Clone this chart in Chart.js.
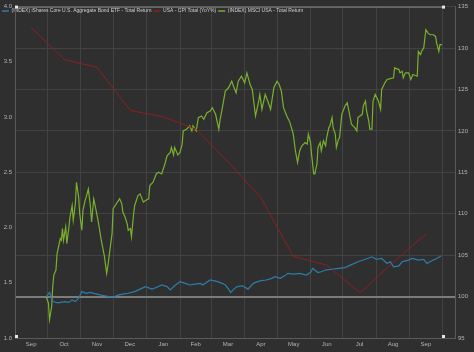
<!DOCTYPE html>
<html>
<head>
<meta charset="utf-8">
<script src="https://cdn.jsdelivr.net/npm/chart.js@4/dist/chart.umd.min.js"></script>
<style>
  html, body { margin: 0; padding: 0; background: #2f2f2f; }
  #wrap { width: 474px; height: 352px; }
</style>
</head>
<body>
<div id="wrap"><canvas id="chart" width="474" height="352"></canvas></div>
<script>
// x values are days counted from Sep 1 (start of the axis)
const monthStarts = [0, 30, 61, 91, 122, 153, 182, 213, 243, 274, 304, 335, 366, 396];
const monthLabels = ['Sep', 'Oct', 'Nov', 'Dec', 'Jan', 'Feb', 'Mar', 'Apr', 'May', 'Jun', 'Jul', 'Aug', 'Sep'];
const leftTicks = [1.0, 1.5, 2.0, 2.5, 3.0, 3.5, 4.0];
const rightTicks = [95, 100, 105, 110, 115, 120, 125, 130, 135];

const seriesNames = [
  '(INDEX) iShares Core U.S. Aggregate Bond ETF - Total Return',
  'USA - CPI Total (YoY%)',
  '(INDEX) MSCI USA - Total Return'
];

// iShares bond ETF, right axis
const bondDays = [29, 32, 35, 40, 46, 50, 53, 56, 59, 62, 66, 70, 74, 79, 83, 87, 91, 96, 100, 105,
  111, 116, 121, 127, 131, 136, 141, 144, 148, 153, 158, 162, 167, 172, 174, 181, 185, 188, 192, 195,
  198, 200, 203, 206, 211, 216, 221, 227, 233, 238, 241, 246, 250, 253, 258, 264, 270, 274, 276, 281,
  284, 288, 294, 300, 306, 311, 318, 325, 331, 335, 340, 345, 348, 351, 356, 359, 365, 368, 374, 379,
  382, 386, 391, 395];
const bondValues = [100.0, 100.5, 99.4, 99.25, 99.4, 99.3, 99.6, 99.4, 99.8, 100.6, 100.4, 100.5, 100.35, 100.2, 100.1, 100.0, 99.9, 100.2, 100.3, 100.4,
  100.6, 100.9, 101.2, 100.9, 101.1, 101.4, 101.2, 100.8, 101.3, 101.8, 101.6, 101.4, 101.5, 101.6, 101.4, 102.0, 101.9, 101.8, 101.6, 101.4,
  100.9, 100.5, 100.9, 101.2, 101.3, 100.9, 101.6, 101.9, 102.0, 102.2, 102.4, 102.2, 102.5, 102.8, 102.7, 102.8, 102.6, 102.9, 103.4, 102.9,
  103.0, 103.2, 103.3, 103.4, 103.5, 103.8, 104.2, 104.5, 104.8, 104.5, 104.6, 104.0, 104.2, 103.6, 103.7, 104.2, 104.4, 104.6, 104.4, 104.5,
  104.0, 104.3, 104.6, 104.9];

// CPI YoY %, left axis, monthly
const cpiDays = [15, 46, 76, 107, 138, 168, 199, 228, 258, 289, 320, 350, 381];
const cpiValues = [3.81, 3.52, 3.45, 3.06, 3.00, 2.89, 2.58, 2.27, 1.74, 1.66, 1.41, 1.68, 1.94];

// MSCI USA, right axis
const msciDays = [29, 31, 32, 34, 35, 36, 38, 39, 40, 42, 43, 44, 45, 47, 48, 50, 51, 53, 54, 56,
  57, 59, 60, 62, 63, 65, 66, 68, 70, 71, 73, 74, 77, 80, 83, 85, 86, 88, 90, 91,
  94, 97, 99, 100, 102, 104, 105, 107, 108, 110, 111, 114, 116, 119, 121, 124, 125, 128, 131, 133,
  136, 139, 141, 144, 145, 147, 148, 151, 153, 155, 156, 159, 162, 164, 165, 168, 170, 173, 175, 178,
  181, 183, 186, 189, 190, 192, 195, 198, 201, 202, 205, 207, 210, 213, 215, 218, 220, 223, 226, 227,
  229, 232, 235, 237, 240, 243, 245, 247, 249, 252, 255, 258, 260, 262, 264, 266, 269, 271, 272, 274,
  275, 277, 278, 280, 281, 283, 284, 286, 288, 289, 291, 292, 294, 295, 297, 298, 300, 301, 303, 306,
  308, 309, 312, 315, 317, 318, 322, 323, 325, 326, 328, 329, 331, 332, 334, 337, 339, 340, 343, 345,
  348, 351, 352, 356, 357, 359, 360, 362, 365, 367, 369, 373, 374, 376, 377, 379, 381, 383, 385, 388,
  390, 391, 393, 394, 396];
const msciValues = [100.0, 99.2, 97.2, 98.8, 101.2, 102.6, 103.2, 105.2, 105.8, 107.0, 106.8, 108.2, 106.8, 108.4, 106.4, 108.4, 109.6, 111.0, 109.2, 111.2,
  113.8, 112.0, 110.0, 108.0, 110.4, 111.6, 112.0, 113.0, 110.8, 109.0, 111.8, 111.2, 109.2, 106.8, 104.8, 102.8, 103.6, 105.6, 107.6, 110.6,
  111.2, 111.8, 111.2, 110.2, 109.6, 108.8, 108.0, 108.2, 107.2, 110.0, 111.0, 112.2, 112.4, 111.4, 111.6, 111.8, 113.4, 113.8, 114.8, 115.0,
  114.8, 116.0, 117.0, 117.4, 118.0, 117.1, 118.0, 117.1, 117.4, 118.4, 120.0, 120.2, 120.6, 120.0, 120.6, 120.0, 121.6, 121.8, 121.4, 122.2,
  122.4, 122.8, 122.0, 120.2, 121.2, 122.6, 124.8, 125.2, 126.0, 125.6, 124.6, 126.0, 126.6, 125.8, 127.0, 125.6, 125.0, 121.8, 123.6, 124.4,
  122.6, 124.4, 123.4, 122.6, 125.2, 126.0, 125.6, 124.8, 122.8, 121.8, 121.0, 119.6, 117.6, 116.2, 117.6, 118.2, 118.6, 118.4, 119.6, 118.6,
  117.2, 114.8, 114.8, 116.0, 118.0, 118.6, 117.6, 118.8, 118.2, 119.2, 120.4, 120.6, 121.6, 120.4, 119.6, 118.0, 119.0, 119.2, 122.0, 123.0,
  123.4, 122.8, 120.8, 120.4, 120.0, 121.6, 122.0, 123.0, 123.6, 122.4, 121.2, 120.2, 120.2, 123.6, 124.4, 123.6, 122.6, 125.0, 125.8, 126.2,
  126.3, 126.4, 127.6, 127.4, 127.0, 127.2, 126.4, 127.0, 127.0, 126.2, 126.8, 126.6, 129.6, 129.2, 129.6, 130.0, 132.2, 131.8, 131.6, 131.6,
  131.4, 130.6, 129.6, 130.4, 130.4];

const monthMids = monthLabels.map((m, i) => (monthStarts[i] + monthStarts[i + 1]) / 2);
const toPoints = (xs, ys) => xs.map((x, i) => ({ x: x, y: ys[i] }));

const tickFont = { family: '"Liberation Sans", Arial, sans-serif', size: 6 };
const tickColor = '#b4b4b4';
const gridColor = '#424242';

// background, top range bar and the small white handles
const frameDecor = {
  id: 'frameDecor',
  beforeLayout(chart) {
    // legend sits inside the plot area but should run in one row
    if (chart.legend) chart.legend.isHorizontal = () => true;
  },
  beforeDraw(chart) {
    const c = chart.ctx;
    c.save();
    c.fillStyle = '#2f2f2f';
    c.fillRect(0, 0, chart.width, chart.height);
    c.restore();
  },
  afterDraw(chart) {
    const { ctx, chartArea: a, scales } = chart;
    const xEnd = Math.round(scales.x.getPixelForValue(monthStarts[monthStarts.length - 1]));
    ctx.save();
    ctx.strokeStyle = '#8c8c8c';
    ctx.lineWidth = 1;
    ctx.beginPath();
    ctx.moveTo(a.left, a.top + 0.5);
    ctx.lineTo(xEnd, a.top + 0.5);
    ctx.stroke();
    ctx.fillStyle = '#e8e8e8';
    [[a.left, a.top], [a.left, a.bottom - 2], [xEnd, a.top], [xEnd, a.bottom - 2]]
      .forEach(([px, py]) => ctx.fillRect(px, py - 1, 3, 3));
    ctx.restore();
  }
};

const chart = new Chart(document.getElementById('chart'), {
  type: 'line',
  data: {
    datasets: [
      {
        label: seriesNames[0],
        data: toPoints(bondDays, bondValues),
        yAxisID: 'yR',
        borderColor: '#2b7eab',
        backgroundColor: '#2b7eab',
        borderWidth: 1.2
      },
      {
        label: seriesNames[1],
        data: toPoints(cpiDays, cpiValues),
        yAxisID: 'yL',
        borderColor: '#8e1f1f',
        backgroundColor: '#8e1f1f',
        borderWidth: 1
      },
      {
        label: seriesNames[2],
        data: toPoints(msciDays, msciValues),
        yAxisID: 'yR',
        borderColor: '#79b12c',
        backgroundColor: '#79b12c',
        borderWidth: 1.2
      }
    ]
  },
  options: {
    responsive: false,
    animation: false,
    layout: { padding: { top: 1, left: 0, right: 0, bottom: 0 } },
    elements: { point: { radius: 0 }, line: { tension: 0 } },
    plugins: {
      tooltip: { enabled: false },
      legend: {
        position: 'chartArea',
        align: 'start',
        labels: {
          color: '#cfcfcf',
          font: { family: '"Liberation Sans", Arial, sans-serif', size: 5 },
          boxWidth: 7,
          boxHeight: 1.5,
          padding: 2,
          generateLabels: (c) => Chart.defaults.plugins.legend.labels.generateLabels(c)
            .map(l => Object.assign(l, { lineWidth: 0 }))
        }
      }
    },
    scales: {
      x: {
        type: 'linear',
        min: 0,
        max: 408,
        afterBuildTicks: (s) => {
          s.ticks = monthStarts.concat(monthMids).sort((a, b) => a - b).map(v => ({ value: v }));
        },
        afterFit: (s) => { s.height = 14; },
        grid: {
          color: (ctx) => (ctx.tick && monthStarts.includes(ctx.tick.value)) ? gridColor : 'rgba(0,0,0,0)',
          drawTicks: false
        },
        border: { color: '#5a5a5a' },
        ticks: {
          autoSkip: false,
          maxRotation: 0,
          padding: 3,
          color: tickColor,
          font: tickFont,
          callback: (v) => {
            const i = monthMids.indexOf(v);
            return i >= 0 ? monthLabels[i] : '';
          }
        }
      },
      yL: {
        position: 'left',
        min: 1,
        max: 4,
        afterBuildTicks: (s) => { s.ticks = leftTicks.map(v => ({ value: v })); },
        afterFit: (s) => { s.width = 15; },
        grid: { color: 'rgba(0,0,0,0)', drawTicks: false },
        border: { color: '#5a5a5a' },
        ticks: { padding: 3, color: tickColor, font: tickFont, callback: (v) => v.toFixed(1) }
      },
      yR: {
        position: 'right',
        min: 95,
        max: 135,
        afterBuildTicks: (s) => { s.ticks = rightTicks.map(v => ({ value: v })); },
        afterFit: (s) => { s.width = 19; },
        grid: {
          color: (ctx) => (ctx.tick && ctx.tick.value === 100) ? '#7c7c7c' : gridColor,
          lineWidth: (ctx) => (ctx.tick && ctx.tick.value === 100) ? 2 : 1,
          drawTicks: false
        },
        border: { color: '#5a5a5a' },
        ticks: { padding: 3, color: tickColor, font: tickFont }
      }
    }
  },
  plugins: [frameDecor]
});
</script>
</body>
</html>
